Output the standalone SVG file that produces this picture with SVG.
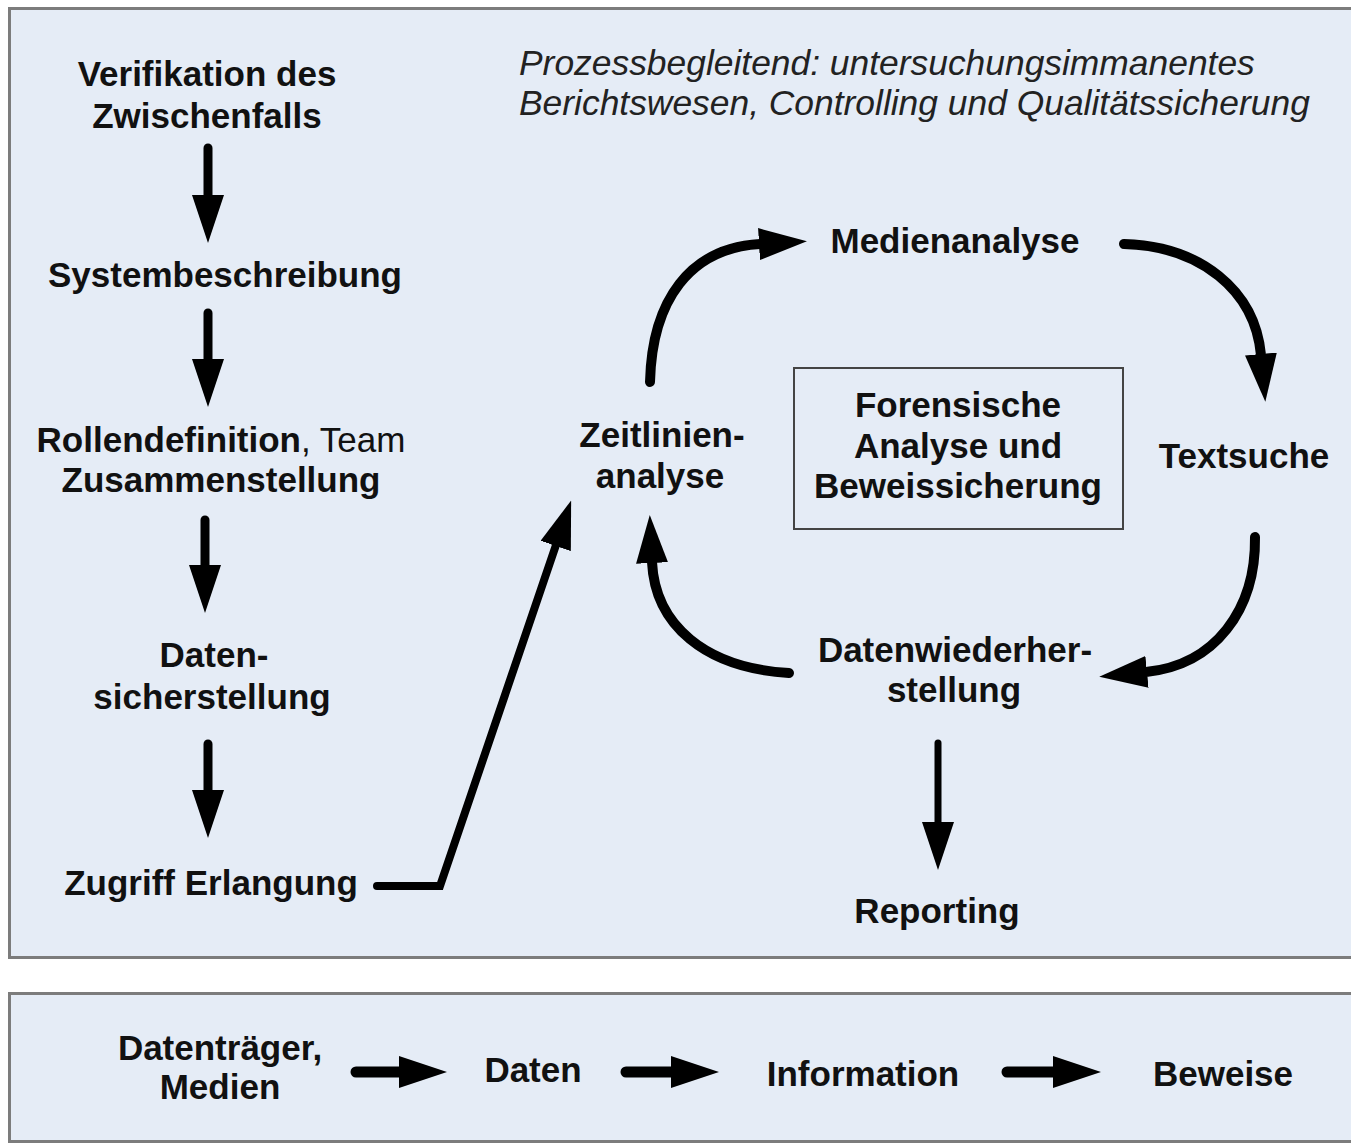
<svg xmlns="http://www.w3.org/2000/svg" width="1351" height="1144" viewBox="0 0 1351 1144">
<defs>
<style>
.frame{fill:#e5ecf6;stroke:#7c7c7c;stroke-width:3}
.t{font-family:"Liberation Sans",Arial,sans-serif;font-weight:bold;font-size:35px;fill:#111;text-anchor:middle}
.it{font-family:"Liberation Sans",Arial,sans-serif;font-style:italic;font-size:35.4px;fill:#222}
.reg{font-weight:normal}
.ln{fill:none;stroke:#000;stroke-linecap:round}
.box{fill:none;stroke:#444;stroke-width:2}
</style>
<marker id="ah" markerUnits="userSpaceOnUse" markerWidth="48" markerHeight="32" refX="1" refY="16" orient="auto" viewBox="0 0 48 32">
<path d="M0,0 L48,16 L0,32 Z" fill="#000"/>
</marker>
</defs>
<rect class="frame" x="9.5" y="8.5" width="1360" height="949"/>
<rect class="frame" x="9.5" y="993.5" width="1360" height="148"/>

<g id="note"><text class="it" x="519" y="75">Prozessbegleitend: untersuchungsimmanentes</text><text class="it" x="519" y="115">Berichtswesen, Controlling und Qualitätssicherung</text></g>
<g id="n-verifikation"><text class="t" x="207" y="86">Verifikation des</text><text class="t" x="207" y="128">Zwischenfalls</text></g>
<g id="n-system"><text class="t" x="225" y="287">Systembeschreibung</text></g>
<g id="n-rollen"><text class="t" x="221" y="452">Rollendefinition<tspan class="reg">, Team</tspan></text><text class="t" x="221" y="492">Zusammenstellung</text></g>
<g id="n-daten"><text class="t" x="214" y="667">Daten-</text><text class="t" x="212" y="709">sicherstellung</text></g>
<g id="n-zugriff"><text class="t" x="211" y="895">Zugriff Erlangung</text></g>
<g id="n-medien"><text class="t" x="955" y="253">Medienanalyse</text></g>
<g id="n-zeit"><text class="t" x="662" y="447">Zeitlinien-</text><text class="t" x="660" y="488">analyse</text></g>
<g id="n-text"><text class="t" x="1244" y="468">Textsuche</text></g>
<g id="n-forensik"><rect class="box" x="794" y="368" width="329" height="161"/><text class="t" x="958" y="417">Forensische</text><text class="t" x="958" y="458">Analyse und</text><text class="t" x="958" y="498">Beweissicherung</text></g>
<g id="n-wieder"><text class="t" x="955" y="662">Datenwiederher-</text><text class="t" x="954" y="702">stellung</text></g>
<g id="n-report"><text class="t" x="937" y="923">Reporting</text></g>
<g id="b-medien"><text class="t" x="220" y="1060">Datenträger,</text><text class="t" x="220" y="1099">Medien</text></g>
<g id="b-daten"><text class="t" x="533" y="1082">Daten</text></g>
<g id="b-info"><text class="t" x="863" y="1086">Information</text></g>
<g id="b-beweise"><text class="t" x="1223" y="1086">Beweise</text></g>

<g id="connectors">
<path class="ln" stroke-width="9" d="M208 148 L208 196" marker-end="url(#ah)"/>
<path class="ln" stroke-width="9" d="M208 313 L208 360" marker-end="url(#ah)"/>
<path class="ln" stroke-width="9" d="M205 520 L205 566" marker-end="url(#ah)"/>
<path class="ln" stroke-width="9" d="M208 744 L208 791" marker-end="url(#ah)"/>
<path class="ln" stroke-width="8" stroke-linejoin="miter" d="M377 886 L440 886 L556 545" marker-end="url(#ah)"/>
<path class="ln" stroke-width="10" d="M650 382 C652 300 690 248 760 244" marker-end="url(#ah)"/>
<path class="ln" stroke-width="10" d="M1124 244 C1200 246 1255 290 1261 355" marker-end="url(#ah)"/>
<path class="ln" stroke-width="10" d="M1255 537 C1256 610 1215 665 1146 672" marker-end="url(#ah)"/>
<path class="ln" stroke-width="10" d="M789 673 C705 668 655 625 652 562" marker-end="url(#ah)"/>
<path class="ln" stroke-width="7" d="M938 743 L938 823" marker-end="url(#ah)"/>
<path class="ln" stroke-width="11" d="M356 1072 L400 1072" marker-end="url(#ah)"/>
<path class="ln" stroke-width="11" d="M626 1072 L672 1072" marker-end="url(#ah)"/>
<path class="ln" stroke-width="11" d="M1007 1072 L1054 1072" marker-end="url(#ah)"/>
</g>
</svg>
